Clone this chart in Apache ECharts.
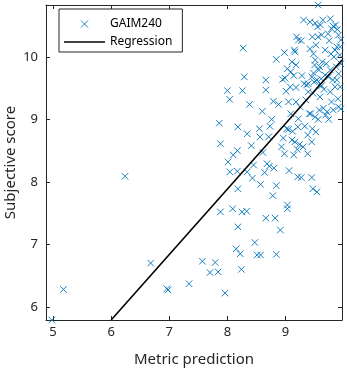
<!DOCTYPE html>
<html>
<head>
<meta charset="utf-8">
<script src="https://cdn.jsdelivr.net/npm/echarts@6/dist/echarts.min.js"></script>
<style>
  html, body { margin: 0; padding: 0; background: #fff; }
  #chart { width: 347px; height: 369px; }
</style>
</head>
<body>
<div id="chart"></div>
<script>
// Axis ranges and tick positions
const xRange = [4.88, 9.97];
const yRange = [5.79, 10.83];
const xTicks = [5, 6, 7, 8, 9];
const yTicks = [6, 7, 8, 9, 10];

// Metric prediction (x) vs subjective score (y) for each image
const metricPrediction = [
  4.98, 5.18, 6.24, 6.68, 6.96, 6.98, 7.34, 7.57, 7.70, 7.79, 7.84, 7.96, 7.86, 7.88, 7.88,
  8.00, 8.04, 8.01, 8.04, 8.09, 8.10, 8.15, 8.18, 8.17, 8.17, 8.18, 8.18, 8.22, 8.24, 8.25,
  8.27, 8.26, 8.29, 8.33, 8.34, 8.34, 8.38, 8.41, 8.43, 8.45, 8.47, 8.51, 8.57, 8.55, 8.56,
  8.57, 8.60, 8.61, 8.64, 8.66, 8.66, 8.66, 8.68, 8.71, 8.72, 8.73, 8.76, 8.78, 8.79, 8.80,
  8.82, 8.84, 8.84, 8.84, 8.88, 8.91, 8.93, 8.95, 8.96, 8.98, 8.98, 8.99, 9.01, 9.02, 9.03,
  9.03, 9.03, 9.05, 9.05, 9.06, 9.09, 9.09, 9.11, 9.11, 9.12, 9.14, 9.15, 9.16, 9.16, 9.18,
  9.18, 9.18, 9.19, 9.20, 9.21, 9.21, 9.22, 9.22, 9.24, 9.25, 9.27, 9.27, 9.30, 9.31, 9.32,
  9.33, 9.35, 9.38, 9.38, 9.39, 9.41, 9.42, 9.43, 9.45, 9.45, 9.45, 9.46, 9.46, 9.47, 9.47,
  9.48, 9.49, 9.50, 9.51, 9.51, 9.52, 9.52, 9.54, 9.55, 9.56, 9.56, 9.57, 9.58, 9.58, 9.59,
  9.60, 9.61, 9.62, 9.63, 9.64, 9.65, 9.66, 9.68, 9.69, 9.71, 9.73, 9.74, 9.75, 9.77, 9.78,
  9.79, 9.79, 9.81, 9.82, 9.83, 9.85, 9.86, 9.87, 9.88, 9.89, 9.90, 9.91, 9.91, 9.93, 9.94,
  9.94, 9.95, 9.95, 9.36, 9.51, 9.54, 9.59, 9.68, 9.70, 9.77, 9.82, 9.85, 9.88, 9.74, 9.56,
  9.48, 9.39, 9.28, 9.14, 9.08, 9.42, 9.62, 9.91, 9.95, 9.77
];
const subjectiveScore = [
  5.79, 6.28, 8.09, 6.70, 6.29, 6.27, 6.37, 6.73, 6.55, 6.71, 6.56, 6.22, 8.94, 8.61, 7.52,
  9.46, 9.32, 8.32, 8.16, 7.57, 8.43, 6.93, 8.88, 8.50, 8.17, 7.89, 7.28, 6.85, 6.60, 7.52,
  10.14, 9.46, 9.68, 7.53, 8.77, 8.16, 9.24, 8.58, 8.06, 8.27, 7.03, 6.83, 6.83, 8.85, 8.72,
  7.96, 9.13, 8.47, 8.15, 9.63, 9.47, 7.42, 8.29, 8.72, 8.25, 8.89, 9.00, 7.78, 9.29, 8.22,
  7.42, 9.96, 7.94, 6.84, 9.24, 7.23, 8.56, 9.64, 8.70, 10.07, 8.45, 9.66, 9.45, 8.85, 7.63,
  7.57, 9.81, 9.28, 8.84, 8.18, 9.76, 9.09, 8.67, 9.92, 8.81, 8.43, 10.11, 8.64, 10.08, 9.87,
  9.28, 9.51, 10.32, 8.52, 8.88, 8.08, 9.01, 10.27, 8.60, 9.20, 8.07, 10.26, 8.56, 10.59, 9.57,
  8.89, 9.31, 8.75, 8.45, 9.44, 9.09, 10.56, 9.09, 9.68, 8.07, 8.64, 8.85, 10.32, 7.89, 9.42,
  10.05, 9.60, 9.87, 10.54, 9.04, 8.80, 10.19, 7.84, 10.48, 10.83, 10.32, 9.79, 9.55, 9.15, 9.36,
  10.51, 9.65, 9.54, 9.92, 10.59, 9.18, 9.48, 9.71, 9.07, 9.12, 10.37, 9.68, 10.26, 9.79, 10.05,
  10.45, 9.28, 9.63, 10.49, 10.00, 9.52, 10.51, 9.84, 10.16, 10.44, 9.33, 9.73, 9.20, 10.03, 10.16,
  9.52, 9.89, 9.17, 9.55, 9.95, 9.63, 9.84, 10.11, 9.89, 9.44, 9.15, 10.11, 9.63, 9.00, 9.00,
  9.74, 9.57, 9.70, 9.70, 9.52, 10.13, 10.35, 10.35, 10.27, 10.61
];

// Least-squares fit endpoints (clipped to the plot box)
const regressionX = [6.00, 9.97];
const regressionY = [5.79, 9.95];

const seriesNames = ['GAIM240', 'Regression'];

const FONT = '"Noto Sans", "Open Sans", sans-serif';
const AXIS_COLOR = '#262626';
const MARKER_COLOR = '#0072BD';
const CROSS = 'path://M0,0L10,10M10,0L0,10';

const points = metricPrediction.map((x, i) => [x, subjectiveScore[i]]);
const fitLine = regressionX.map((x, i) => [x, regressionY[i]]);

const baseX = {
  type: 'value',
  min: xRange[0],
  max: xRange[1],
  splitLine: { show: false },
  axisLine: { show: true, onZero: false, lineStyle: { color: AXIS_COLOR, width: 1 } },
  axisTick: { show: true, inside: true, length: 4, customValues: xTicks, lineStyle: { color: AXIS_COLOR } },
};
const baseY = {
  type: 'value',
  min: yRange[0],
  max: yRange[1],
  splitLine: { show: false },
  axisLine: { show: true, onZero: false, lineStyle: { color: AXIS_COLOR, width: 1 } },
  axisTick: { show: true, inside: true, length: 4, customValues: yTicks, lineStyle: { color: AXIS_COLOR } },
};

const chart = echarts.init(document.getElementById('chart'), null, { renderer: 'canvas' });
chart.setOption({
  animation: false,
  backgroundColor: '#ffffff',
  grid: { left: 46, right: 5, top: 5, bottom: 49, containLabel: false, outerBoundsMode: 'none' },
  legend: {
    orient: 'vertical',
    left: 59,
    top: 9,
    padding: [9, 10, 4, 5],
    itemGap: 6,
    itemWidth: 41,
    itemHeight: 7,
    borderColor: AXIS_COLOR,
    borderWidth: 1,
    borderRadius: 0,
    backgroundColor: '#ffffff',
    textStyle: { fontFamily: FONT, fontSize: 12, color: '#000' },
    data: [
      {
        name: seriesNames[0],
        icon: CROSS,
        itemStyle: { color: 'rgba(0,0,0,0)', borderColor: MARKER_COLOR, borderWidth: 1 },
      },
      {
        name: seriesNames[1],
        icon: 'path://M0,0L40,0L40,1.6L0,1.6Z',
        itemStyle: { color: '#000000', borderWidth: 0 },
      },
    ],
  },
  xAxis: [
    Object.assign({}, baseX, {
      position: 'bottom',
      name: 'Metric prediction',
      nameLocation: 'middle',
      nameGap: 32,
      nameTextStyle: { fontFamily: FONT, fontSize: 15, color: AXIS_COLOR },
      axisLabel: { show: true, customValues: xTicks, margin: 6, fontFamily: FONT, fontSize: 13, color: AXIS_COLOR },
    }),
    Object.assign({}, baseX, {
      position: 'top',
      axisLabel: { show: false },
    }),
  ],
  yAxis: [
    Object.assign({}, baseY, {
      position: 'left',
      name: 'Subjective score',
      nameLocation: 'middle',
      nameGap: 27.5,
      nameMoveOverlap: false,
      nameTextStyle: { fontFamily: FONT, fontSize: 15, color: AXIS_COLOR },
      axisLabel: { show: true, customValues: yTicks, margin: 8, fontFamily: FONT, fontSize: 13, color: AXIS_COLOR },
    }),
    Object.assign({}, baseY, {
      position: 'right',
      axisLabel: { show: false },
    }),
  ],
  series: [
    {
      name: seriesNames[0],
      type: 'scatter',
      xAxisIndex: 0,
      yAxisIndex: 0,
      symbol: CROSS,
      symbolSize: 6.5,
      symbolKeepAspect: true,
      itemStyle: { color: 'rgba(0,0,0,0)', borderColor: MARKER_COLOR, borderWidth: 1, opacity: 0.9 },
      data: points,
      z: 2,
    },
    {
      name: seriesNames[1],
      type: 'line',
      xAxisIndex: 0,
      yAxisIndex: 0,
      symbol: 'none',
      showSymbol: false,
      clip: true,
      lineStyle: { color: '#000000', width: 1.6 },
      itemStyle: { color: '#000000' },
      data: fitLine,
      z: 3,
    },
  ],
});
</script>
</body>
</html>
